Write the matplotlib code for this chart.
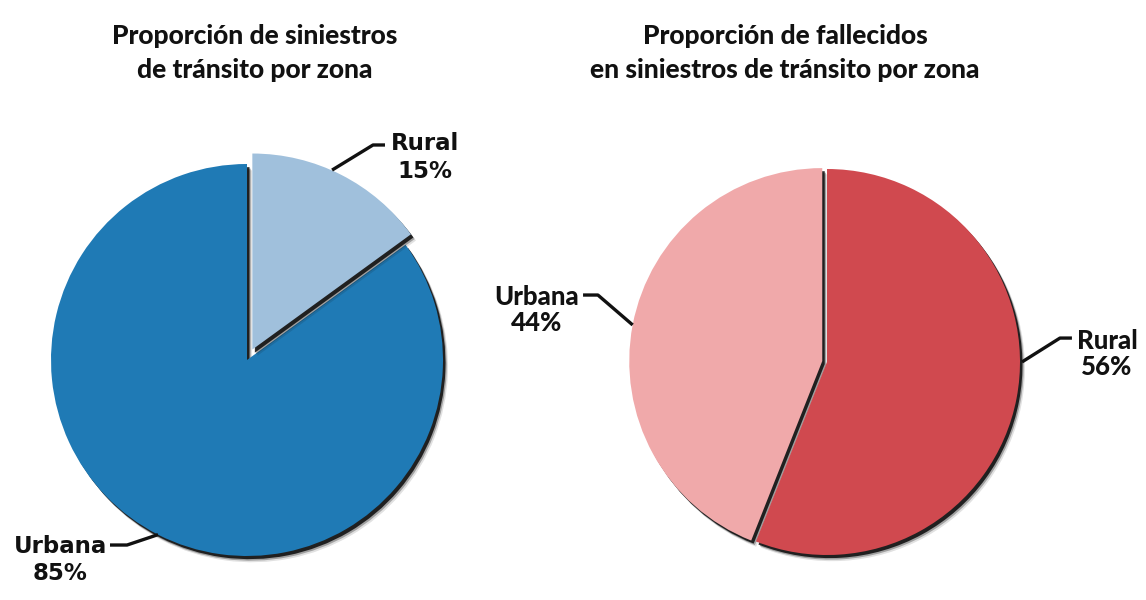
import numpy as np
import matplotlib
matplotlib.use("Agg")
from matplotlib import pyplot as plt

# share of crashes by zone
zones_crash = ['Rural', 'Urbana']
share_crash = [15, 85]
# share of deaths by zone
zones_death = ['Rural', 'Urbana']
share_death = [56, 44]

title_crash = 'Proporción de siniestros\nde tránsito por zona'
title_death = 'Proporción de fallecidos\nen siniestros de tránsito por zona'

colors_crash = ['#a0c0dc', '#1f7ab5']
colors_death = ['#d0494f', '#f0a9aa']

W, H = 1146, 600
fig = plt.figure(figsize=(W / 100, H / 100), dpi=100)


def pie_axes(cx, cy, r, lim=1.3):
    # axes sized so that one data unit is r pixels, centred on (cx, cy) from top-left
    size = 2 * lim * r
    ax = fig.add_axes([(cx - size / 2) / W, (H - cy - size / 2) / H, size / W, size / H])
    return ax


def shaded_pie(ax, values, colors, explode):
    n = len(values)
    # soft dark rim down-right of each wedge
    layers = [(0.032, 0.12), (0.024, 0.3), (0.016, 0.85)]
    for k, (off, a) in enumerate(layers):
        sh, _ = ax.pie(values, explode=explode, startangle=90, counterclock=False,
                       colors=['#0a0a0a'] * n, center=(off * 0.8, -off),
                       wedgeprops=dict(linewidth=0, alpha=a))
        for i, w in enumerate(sh):
            w.set_zorder(10 * (n - i) + k)
    wedges, _ = ax.pie(values, explode=explode, startangle=90, counterclock=False,
                       colors=colors, wedgeprops=dict(linewidth=0))
    for i, w in enumerate(wedges):
        w.set_zorder(10 * (n - i) + 5)
    ax.set_xlim(-1.3, 1.3)
    ax.set_ylim(-1.3, 1.3)
    ax.axis('off')
    return wedges


def leader(ax, pts, lw=2.4):
    xs, ys = zip(*pts)
    ax.plot(xs, ys, color='#111111', lw=lw, solid_capstyle='butt', zorder=50, clip_on=False)


# left pie
ax1 = pie_axes(247, 360, 196)
shaded_pie(ax1, share_crash, colors_crash, explode=[0.06, 0])
lab_font = dict(family='DejaVu Sans', fontweight='bold', fontsize=16.5, color='#111111',
                ha='center', va='center', linespacing=1.25)
ax1.text(0.908, 1.033, f'{zones_crash[0]}\n{share_crash[0]}%', **lab_font, zorder=60)
leader(ax1, [(0.434, 0.969), (0.643, 1.097), (0.704, 1.097)])
ax1.text(-0.954, -1.020, f'{zones_crash[1]}\n{share_crash[1]}%', **lab_font, zorder=60)
leader(ax1, [(-0.454, -0.891), (-0.612, -0.944), (-0.699, -0.944)])

# right pie
ax2 = pie_axes(827, 362, 193)
shaded_pie(ax2, share_death, colors_death, explode=[0, 0.025])
lab_font2 = dict(family='Lato', fontweight='black', fontsize=18.5, color='#111111',
                 ha='center', va='center', linespacing=1.1)
ax2.text(1.451, 0.041, f'{zones_death[0]}\n{share_death[0]}%', **lab_font2, zorder=60)
leader(ax2, [(1.010, 0.0), (1.207, 0.124), (1.269, 0.124)])
ax2.text(-1.503, 0.269, f'{zones_death[1]}\n{share_death[1]}%', **lab_font2, zorder=60)
leader(ax2, [(-1.007, 0.192), (-1.187, 0.347), (-1.264, 0.347)])

# titles
title_font = dict(family='Lato', fontweight='black', fontsize=19, color='#111111',
                  ha='center', va='center', linespacing=1.45)
fig.text(255 / W, 1 - 53 / H, title_crash, **title_font)
fig.text(785 / W, 1 - 53 / H, title_death, **title_font)

fig.savefig('out.png', dpi=100, facecolor='white')
